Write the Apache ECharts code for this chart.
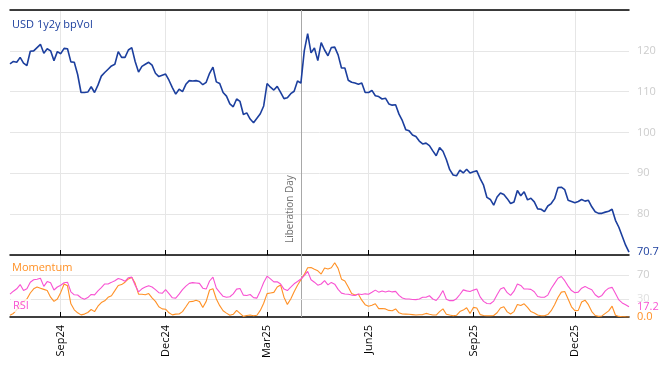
<!DOCTYPE html>
<html><head><meta charset="utf-8">
<script src="https://cdn.jsdelivr.net/npm/echarts@6/dist/echarts.min.js"></script>
<style>html,body{margin:0;padding:0;background:#fff}#c{width:668px;height:366px}</style>
</head><body><div id="c"></div>
<script>
const startDate = '2024-07-17';
const stepDays = 3;
const bpVol = [
116.8,117.4,117.2,118.4,117.0,116.4,119.9,120.0,120.8,121.6,
119.4,120.5,120.0,117.6,119.8,119.3,120.6,120.5,117.3,117.2,
114.2,109.8,109.8,109.9,111.2,109.8,111.6,113.8,114.7,115.5,
116.3,116.7,119.8,118.4,118.4,120.2,120.8,117.4,114.8,116.2,
116.7,117.2,116.5,114.5,113.7,114.0,114.3,112.8,111.0,109.4,
110.6,110.0,111.8,112.7,112.6,112.7,112.5,111.7,112.3,114.5,
116.0,112.4,112.0,109.8,108.9,107.0,106.3,108.2,107.6,104.4,
104.8,103.3,102.4,103.5,104.6,106.5,112.0,111.1,110.4,111.3,
109.8,108.3,108.5,109.5,110.1,112.6,112.1,120.0,124.2,119.5,
120.7,117.6,122.0,120.2,118.8,120.8,120.9,119.0,115.8,115.8,
112.8,112.3,112.1,111.8,112.1,109.8,109.8,110.3,109.0,108.8,
108.2,108.4,107.0,106.7,106.8,104.5,102.9,100.7,100.4,99.4,
99.0,97.9,97.2,97.4,96.8,95.5,94.3,96.3,95.4,93.4,
90.9,89.6,89.4,90.8,90.1,91.0,90.1,90.4,90.6,88.7,
87.1,84.1,83.6,82.2,84.2,85.2,84.8,83.8,82.6,83.0,
85.8,84.5,85.5,83.5,83.9,83.0,81.3,81.2,80.6,82.0,
82.6,83.8,86.5,86.6,86.0,83.4,83.1,82.8,83.1,83.6,
83.2,83.4,81.8,80.6,80.2,80.2,80.5,80.7,81.2,78.5,
76.8,74.6,72.4,70.7
];
const momentum = [
3,6,12,20,26,30,40,47,50,48,
46,44,33,26,30,41,55,52,22,12,
7,3.5,4.8,7.5,12.5,9,18,24,27,32.8,
35.5,43.9,52.5,54,58,63.5,66,56,38,38,
37,39,32,26,17,13.5,13,7,3.5,4.8,
5,9,17,25.5,26,28,26,16,26,45,
47,30,18.9,10.5,6.5,3,4.5,11,6,1,
2.4,3.2,2.2,3,11,23,39,40,41,50,
53.3,33,21,30,42,53,62,71,82,82.5,
79.5,77,71.6,81.5,80,82,90.5,81,63,60,
50,39,36.6,38,28,20.5,18,19.5,22,14,
14.2,13.5,11,10.5,13.5,7,5,4.8,4.5,4,
3.3,3.8,4,6,4.5,3.3,3.3,9,13.5,4.5,
3.2,2.2,2.8,9,11.5,15.5,6,16,15,4,
2.4,2.2,2.2,2.5,7,15,17,8.5,5,9,
21,19,22,16,9,6.6,3.2,2.2,2.2,4,
10.5,20.5,32.5,41.5,42.5,30,17,10.5,11,25,
28,20.5,9,2.5,1,1.8,6,10.2,18,3,
1,0.5,0.2,0
];
const rsi = [
38,43,47,54,44,47,58,62,63,64.5,
51,59,57,45,50,53,57,58,42,37,
36.6,32,29.5,32.3,37.6,36.8,43.5,49,55,55,
57.7,60.5,64,62.5,59.5,65.5,66.5,53,42,47,
49.8,52,50,45.5,40.5,39.5,45.5,39,32,31.5,
38,45.5,51.5,56,57.3,56.7,56,48,46.5,60,
66.5,48,41,34.5,32.8,33.8,38.5,46.5,47.5,36.4,
35.9,37.5,32.3,31.5,43.5,57.5,68,63.5,58.5,58.8,
55,46.5,44,49.6,55.3,59.2,63.3,69,76,62,
58,53,55,60.5,53.5,57.6,54.7,46,39.8,38.3,
38,36.5,35.8,38.3,37.5,38.6,38,41.3,44.8,41.4,
43.3,41.7,43.2,41.8,42.7,36,31.7,30,30,29.2,
29,30,32.8,32.8,35.4,30,27.5,34.5,44,29.5,
27.2,27.2,30.5,37.5,45.2,43.5,42.6,44.8,46.5,33.5,
26,22.5,22,26.5,37,46.5,49,40.5,36,43,
55,52.5,46.6,46.6,46,42,34.2,32.8,32.8,36.5,
47.5,56,64.5,67.5,60.5,51.5,44,40.5,41.5,48,
51,47.8,45.5,37,33,36,43.5,48,49.4,39,
28.5,23.5,20.5,17.2
];
const tickDates = ['2024-09-01','2024-12-01','2025-03-01','2025-06-01','2025-09-01','2025-12-01'];
const tickLabels = ['Sep24','Dec24','Mar25','Jun25','Sep25','Dec25'];
const eventDate = '2025-04-02';
const eventLabel = 'Liberation Day';
const rsiLevels = [30, 70];

const BLUE = '#1c3f9e', ORANGE = '#ff9126', PINK = '#f852d2';
const DAY = 86400000;
const t0 = Date.parse(startDate + 'T00:00:00Z');
const dates = bpVol.map((_, i) => new Date(t0 + i * stepDays * DAY).toISOString().slice(0, 10));
const nearestIdx = d => Math.round((Date.parse(d + 'T00:00:00Z') - t0) / (stepDays * DAY));
const tickMap = {};
tickDates.forEach((d, k) => { tickMap[nearestIdx(d)] = tickLabels[k]; });
const isTick = idx => Object.prototype.hasOwnProperty.call(tickMap, idx);
const eventIdx = nearestIdx(eventDate);
const FONT = 'Open Sans';

const chart = echarts.init(document.getElementById('c'), null, {renderer: 'canvas'});
const gridLineColor = '#e6e6e6';
chart.setOption({
  animation: false,
  textStyle: {fontFamily: FONT},
  title: [
    {text: 'USD 1y2y bpVol', left: 12, top: 19, padding: 0, textStyle: {color: BLUE, fontSize: 11, fontWeight: 'normal', fontFamily: FONT}},
    {text: 'Momentum', left: 12, top: 262, padding: 0, textStyle: {color: ORANGE, fontSize: 11, fontWeight: 'normal', fontFamily: FONT}},
    {text: 'RSI', left: 11, top: 299, padding: [1, 2], backgroundColor: 'rgba(255,255,255,0.75)', textStyle: {color: PINK, fontSize: 11, fontWeight: 'normal', fontFamily: FONT}}
  ],
  grid: [
    {left: 10, right: 39, top: 10, height: 245},
    {left: 10, right: 39, top: 255, height: 62}
  ],
  xAxis: [
    {gridIndex: 0, type: 'category', data: dates, boundaryGap: false, position: 'bottom',
     axisLine: {lineStyle: {color: '#000', width: 1.5}},
     axisTick: {inside: true, length: 5, interval: i => isTick(i), lineStyle: {color: '#000'}},
     axisLabel: {show: false},
     splitLine: {show: true, interval: i => isTick(i), lineStyle: {color: gridLineColor}}},
    {gridIndex: 0, type: 'category', data: dates, boundaryGap: false, position: 'top',
     axisLine: {lineStyle: {color: '#000', width: 1.5}},
     axisTick: {show: false}, axisLabel: {show: false}, splitLine: {show: false}},
    {gridIndex: 1, type: 'category', data: dates, boundaryGap: false, position: 'bottom',
     axisLine: {lineStyle: {color: '#000', width: 1.5}},
     axisTick: {inside: true, length: 5, interval: i => isTick(i), lineStyle: {color: '#000'}},
     axisLabel: {interval: i => isTick(i), rotate: 90, margin: 8, color: '#000', fontSize: 11, fontFamily: FONT,
                 formatter: (v, i) => tickMap[i] || ''},
     splitLine: {show: true, interval: i => isTick(i), lineStyle: {color: gridLineColor}}}
  ],
  yAxis: [
    {gridIndex: 0, type: 'value', position: 'right', min: 70, max: 130, interval: 10,
     axisLine: {show: false}, axisTick: {show: false},
     axisLabel: {color: '#cccccc', fontSize: 11, margin: 8, showMinLabel: false, showMaxLabel: false, fontFamily: FONT},
     splitLine: {lineStyle: {color: gridLineColor}}},
    {gridIndex: 1, type: 'value', position: 'right', min: 0, max: 103.3,
     axisLine: {show: false}, axisTick: {show: false}, axisLabel: {show: false}, splitLine: {show: false}}
  ],
  series: [
    {name: 'USD 1y2y bpVol', type: 'line', xAxisIndex: 0, yAxisIndex: 0, data: bpVol,
     showSymbol: false, symbol: 'none', z: 5,
     lineStyle: {color: BLUE, width: 1.6}, itemStyle: {color: BLUE},
     endLabel: {show: true, formatter: p => Number(p.value).toFixed(1), color: BLUE, fontSize: 11, distance: 8, fontFamily: FONT},
     markLine: {silent: true, symbol: 'none', animation: false,
       lineStyle: {color: '#a8a8a8', width: 1, type: 'solid'},
       label: {show: true, formatter: eventLabel, position: 'insideStartTop', color: '#707070', fontSize: 10, distance: [12, 6], fontFamily: FONT},
       data: [{xAxis: eventIdx}]}},
    {name: 'Momentum', type: 'line', xAxisIndex: 2, yAxisIndex: 1, data: momentum,
     showSymbol: false, symbol: 'none',
     lineStyle: {color: ORANGE, width: 1.1}, itemStyle: {color: ORANGE},
     endLabel: {show: true, formatter: p => Number(p.value).toFixed(1), color: ORANGE, fontSize: 11, distance: 8, fontFamily: FONT}},
    {name: 'RSI', type: 'line', xAxisIndex: 2, yAxisIndex: 1, data: rsi,
     showSymbol: false, symbol: 'none',
     lineStyle: {color: PINK, width: 1.1}, itemStyle: {color: PINK},
     endLabel: {show: true, formatter: p => Number(p.value).toFixed(1), color: PINK, fontSize: 11, distance: 8, fontFamily: FONT},
     markLine: {silent: true, symbol: 'none', animation: false, z: 1,
       data: [
         {xAxis: eventIdx, lineStyle: {color: '#a8a8a8', width: 1, type: 'solid'}, label: {show: false}},
         ...rsiLevels.map(v => ({yAxis: v, lineStyle: {color: gridLineColor, width: 1, type: 'solid'},
           label: {show: true, position: 'end', distance: 8, formatter: String(v), color: v === 30 ? '#e0e0e0' : '#cccccc', fontSize: 11, fontFamily: FONT}}))
       ]}}
  ]
});
</script>
</body></html>
